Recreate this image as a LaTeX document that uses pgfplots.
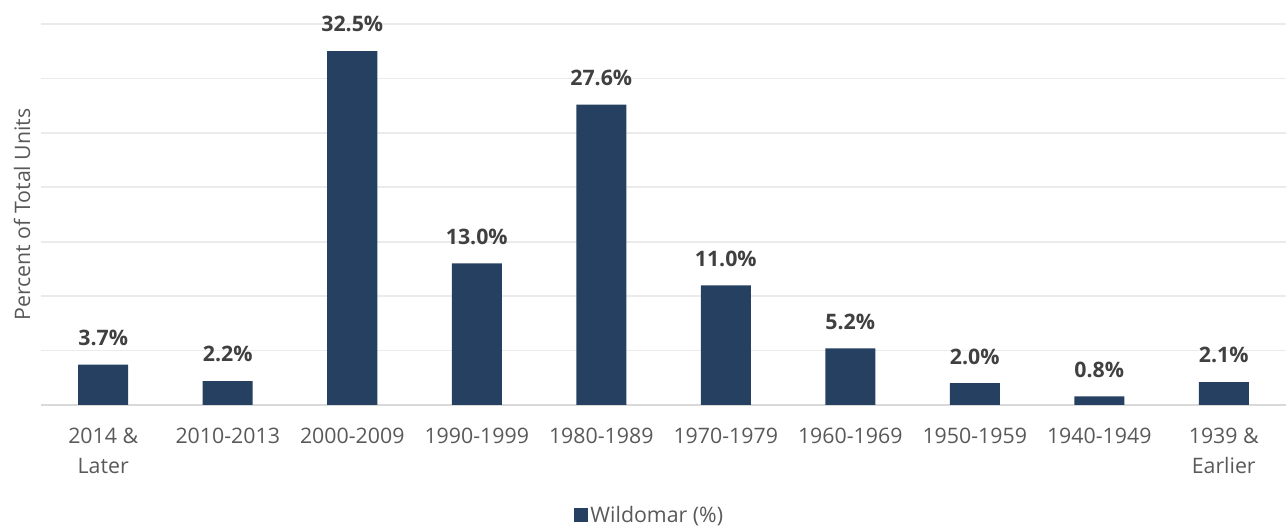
\documentclass[border=0pt]{standalone}
\usepackage{pgfplots}
\pgfplotsset{compat=1.18}
\usepackage{fontspec}
\setmainfont{Open Sans}
\definecolor{barc}{HTML}{264061}
\definecolor{gridc}{HTML}{EBEBEB}
\definecolor{basec}{HTML}{D9D9D9}
\definecolor{tickc}{HTML}{595959}
\definecolor{labc}{HTML}{404040}
\begin{document}
\begin{tikzpicture}
\path[use as bounding box] (-30.75pt,-91.5pt) rectangle (933.75pt,303.75pt);
\begin{axis}[
  at={(0pt,0pt)}, anchor=south west,
  scale only axis,
  width=933.75pt, height=285.75pt,
  xmin=-0.5, xmax=9.5,
  ymin=0, ymax=35,
  axis line style={draw=none},
  major tick length=0pt,
  xtick={0,...,9},
  xticklabels={{2014 \&\\Later},{2010-2013},{2000-2009},{1990-1999},{1980-1989},{1970-1979},{1960-1969},{1950-1959},{1940-1949},{1939 \&\\Earlier}},
  xticklabel style={align=center, font=\fontsize{16}{22.5}\selectfont, text=tickc, inner sep=0pt, anchor=north, yshift=-17pt},
  ytick={5,10,...,35},
  yticklabels={},
  extra y ticks={0},
  extra y tick labels={},
  extra y tick style={grid style={draw=basec, line width=1.5pt}},
  ymajorgrids,
  grid style={draw=gridc, line width=1.2pt},
  ylabel={Percent of Total Units},
  ylabel style={at={(axis description cs:0,0.5)}, anchor=center, yshift=14.25pt, font=\fontsize{16}{19}\selectfont, text=tickc},
  /pgf/number format/assume math mode=true,
  nodes near coords={\pgfmathprintnumber[fixed,fixed zerofill,precision=1]{\pgfplotspointmeta}\%},
  nodes near coords style={anchor=south, inner sep=0pt, yshift=14pt, font=\fontsize{16}{19}\selectfont\bfseries, text=labc},
  legend style={at={(axis description cs:0.489,0)}, anchor=center, yshift=-83pt, draw=none, fill=none, font=\fontsize{16}{19}\selectfont, text=tickc, inner sep=0pt},
  legend image code/.code={\fill[barc] (0pt,-5pt) rectangle (10.5pt,5.5pt);},
  legend cell align=left,
]
\addplot[ybar, bar width=37.5pt, fill=barc, draw=none] coordinates {
(0,3.7) (1,2.2) (2,32.5) (3,13.0) (4,27.6) (5,11.0) (6,5.2) (7,2.0) (8,0.8) (9,2.1)
};
\addlegendentry{Wildomar (\%)}
\end{axis}
\end{tikzpicture}
\end{document}
